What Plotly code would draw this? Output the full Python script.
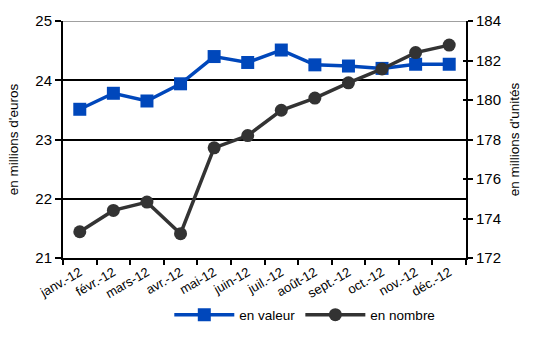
import plotly.graph_objects as go

months = ["janv.-12", "févr.-12", "mars-12", "avr.-12", "mai-12", "juin-12",
          "juil.-12", "août-12", "sept.-12", "oct.-12", "nov.-12", "déc.-12"]
en_valeur = [23.51, 23.78, 23.65, 23.94, 24.40, 24.30,
             24.51, 24.26, 24.24, 24.20, 24.27, 24.27]
en_nombre = [173.33, 174.41, 174.83, 173.23, 177.58, 178.20,
             179.48, 180.10, 180.87, 181.57, 182.40, 182.78]

left_ticks = [21, 22, 23, 24, 25]
right_ticks = [172, 174, 176, 178, 180, 182, 184]

BLUE = "#0047BB"
DARK = "#333333"
FONT = "Liberation Sans"

fig = go.Figure()
fig.add_trace(go.Scatter(
    x=months, y=en_valeur, name="en valeur", mode="lines+markers",
    line=dict(color=BLUE, width=3.5),
    marker=dict(symbol="square", size=13, color=BLUE),
    yaxis="y",
))
fig.add_trace(go.Scatter(
    x=months, y=en_nombre, name="en nombre", mode="lines+markers",
    line=dict(color=DARK, width=3.5),
    marker=dict(symbol="circle", size=13, color=DARK),
    yaxis="y2",
))

fig.update_layout(
    width=536, height=350,
    margin=dict(l=63, r=70, t=17, b=92),
    paper_bgcolor="white", plot_bgcolor="white",
    font=dict(family=FONT, size=14, color="black"),
    showlegend=True,
    legend=dict(orientation="h", x=0.6, xanchor="center", y=-0.24, yanchor="middle",
                font=dict(size=13.5), itemwidth=60, bgcolor="rgba(0,0,0,0)"),
    xaxis=dict(
        type="category", tickangle=-30, tickson="boundaries",
        ticks="outside", ticklen=5, tickwidth=1.5, tickcolor="black",
        showline=True, linecolor="black", linewidth=2,
        showgrid=False, tickfont=dict(size=13),
        range=[-0.5, 11.5],
    ),
    yaxis=dict(
        title=dict(text="en millions d'euros", font=dict(size=13.5), standoff=14),
        range=[21, 25], tickvals=left_ticks, tickfont=dict(size=15),
        ticks="outside", ticklen=6, tickwidth=1.5, tickcolor="black",
        showline=True, linecolor="black", linewidth=2,
        showgrid=True, gridcolor="black", gridwidth=1.5,
        zeroline=False,
    ),
    yaxis2=dict(
        title=dict(text="en millions d'unités", font=dict(size=13.5), standoff=10),
        range=[172, 184], tickvals=right_ticks, tickfont=dict(size=15),
        overlaying="y", side="right",
        ticks="outside", ticklen=5, tickwidth=1.5, tickcolor="black",
        showline=True, linecolor="black", linewidth=2,
        showgrid=False, zeroline=False,
    ),
    # inner half of the crossing ticks on the right-hand axis
    yaxis3=dict(
        range=[172, 184], tickvals=right_ticks, showticklabels=False,
        overlaying="y", side="right",
        ticks="inside", ticklen=3, tickwidth=1.5, tickcolor="black",
        showline=False, showgrid=False, zeroline=False,
    ),
    shapes=[dict(type="line", xref="paper", yref="y", x0=0, x1=1, y0=25, y1=25,
                 line=dict(color="#808080", width=1.5), layer="above")],
)

# empty trace so the inner-tick axis gets drawn
fig.add_trace(go.Scatter(x=[months[0]], y=[None], yaxis="y3",
                         showlegend=False, hoverinfo="skip"))

fig.write_html("out.html")
